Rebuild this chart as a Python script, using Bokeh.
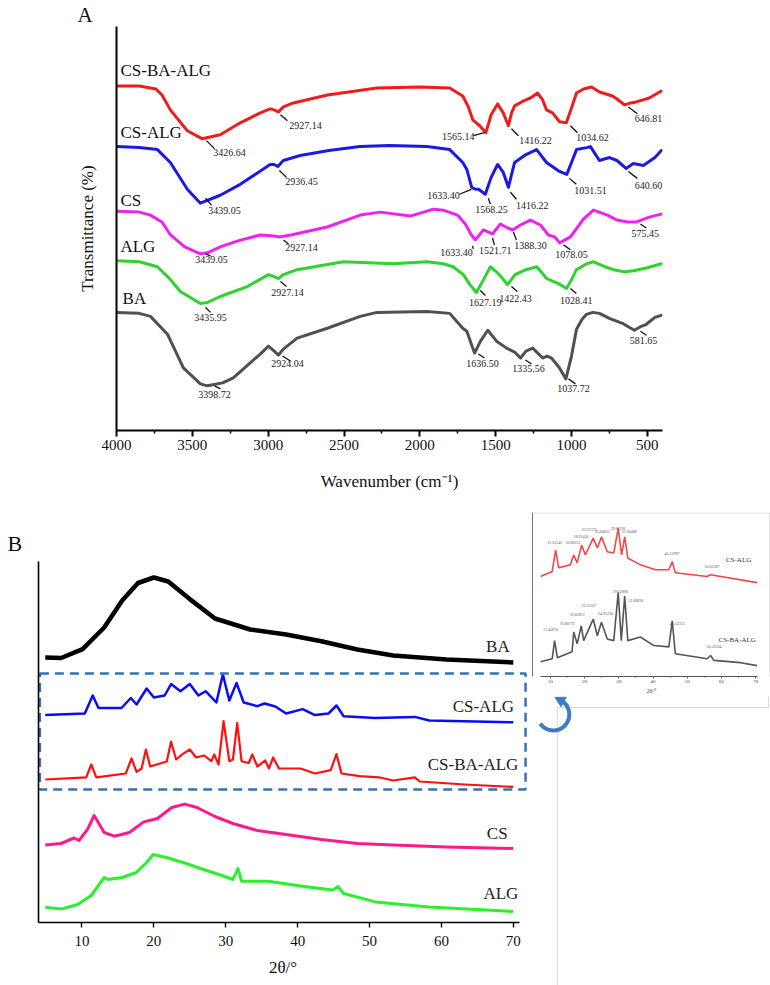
import math
from bokeh.plotting import figure
from bokeh.layouts import column, row
from bokeh.models import Range1d, FixedTicker
from bokeh.core.properties import value
from bokeh.embed import file_html
from bokeh.resources import INLINE

SERIF = "Liberation Serif"

# ---------------- Panel A : FTIR spectra ----------------
csbaalg_wn = [4000, 3850, 3740, 3700, 3645, 3533, 3436, 3316, 3184, 3052, 2987, 2960, 2932, 2900, 2834, 2610, 2283, 2000, 1803, 1717, 1680, 1651, 1605, 1565, 1530, 1487, 1450, 1416, 1395, 1375, 1329, 1270, 1224, 1190, 1165, 1125, 1079, 1034, 1000, 967, 920, 868, 816, 730, 700, 651, 610, 573, 487, 408]
csbaalg_t = [347, 347, 344, 338, 323, 302, 294, 298, 310, 320, 324, 323, 321, 326, 330, 338, 345, 346, 345, 337, 326, 313, 307, 300, 318, 329, 320, 307, 320, 327, 331, 335, 340, 333, 323, 320, 311, 310, 325, 340, 344, 346, 341, 337, 334, 328, 330, 331, 335, 342]

csalg_wn = [4000, 3850, 3730, 3645, 3533, 3447, 3316, 3184, 2987, 2960, 2936, 2900, 2789, 2600, 2395, 2200, 1953, 1803, 1717, 1690, 1658, 1633, 1613, 1568, 1530, 1487, 1450, 1416, 1395, 1375, 1300, 1230, 1165, 1079, 1031, 1000, 967, 900, 875, 816, 750, 700, 640, 592, 526, 450, 408]
csalg_t = [286, 285, 283, 270, 243, 229, 237, 248, 268, 268, 266, 272, 277, 282, 286, 287, 286, 283, 270, 263, 245, 243, 243, 238, 255, 268, 260, 245, 258, 270, 278, 283, 270, 261, 258, 270, 283, 285, 286, 272, 275, 272, 264, 269, 267, 275, 282]

cs_wn = [4000, 3850, 3776, 3700, 3644, 3550, 3447, 3400, 3316, 3200, 3052, 2960, 2927, 2850, 2610, 2393, 2261, 2063, 1910, 1845, 1752, 1700, 1660, 1634, 1581, 1521, 1469, 1420, 1388, 1337, 1271, 1205, 1152, 1110, 1078, 1007, 960, 921, 855, 763, 700, 632, 575, 487, 408]
cs_t = [221, 220, 217, 210, 197, 185, 178, 179, 185, 191, 197, 196, 195, 197, 205, 217, 220, 216, 223, 222, 217, 208, 197, 192, 202, 198, 208, 204, 202, 207, 212, 207, 197, 195, 189, 195, 205, 213, 222, 217, 212, 210, 210, 215, 218]

alg_wn = [4000, 3850, 3730, 3650, 3579, 3447, 3400, 3316, 3138, 2998, 2960, 2932, 2900, 2809, 2505, 2175, 1953, 1845, 1781, 1713, 1670, 1627, 1580, 1535, 1482, 1422, 1372, 1300, 1229, 1163, 1086, 1033, 1000, 967, 900, 855, 780, 723, 650, 592, 500, 408]
alg_t = [171, 170, 165, 153, 140, 128, 129, 135, 145, 157, 155, 153, 157, 162, 170, 168, 170, 168, 165, 157, 147, 139, 152, 165, 158, 147, 157, 162, 165, 153, 148, 143, 152, 162, 168, 170, 165, 162, 160, 161, 164, 168]

ba_wn = [4000, 3850, 3776, 3664, 3559, 3447, 3401, 3300, 3230, 3052, 2998, 2960, 2932, 2900, 2809, 2610, 2393, 2283, 1953, 1803, 1717, 1690, 1660, 1639, 1600, 1552, 1494, 1428, 1375, 1336, 1300, 1256, 1190, 1160, 1132, 1079, 1037, 1000, 967, 930, 901, 860, 816, 750, 664, 620, 585, 540, 507, 450, 408]
ba_t = [119, 118, 115, 97, 63, 47, 45, 48, 53, 77, 85, 80, 76, 82, 93, 103, 115, 119, 120, 118, 103, 100, 87, 78, 90, 101, 90, 83, 79, 73, 80, 83, 73, 75, 73, 63, 52, 75, 102, 112, 117, 119, 118, 113, 108, 104, 101, 105, 107, 114, 116]

ftir_names = ["CS-BA-ALG", "CS-ALG", "CS", "ALG", "BA"]
ftir_colors = ["#ee1c1c", "#1a1ae0", "#ee22ee", "#2fd22f", "#505050"]
ftir_ticks = [4000, 3500, 3000, 2500, 2000, 1500, 1000, 500]
ftir_minor = [3750, 3250, 2750, 2250, 1750, 1250, 750]

# peak annotations: label text, text position, leader from/to
peak_text = ["3426.64", "2927.14", "1565.14", "1416.22", "1034.62", "646.81",
             "3439.05", "2936.45", "1633.40", "1568.25", "1416.22", "1031.51", "640.60",
             "3439.05", "2927.14", "1633.40", "1521.71", "1388.30", "1078.05", "575.45",
             "3435.95", "2927.14", "1627.19", "1422.43", "1028.41",
             "3398.72", "2924.04", "1636.50", "1335.56", "1037.72", "581.65"]
peak_tx = [3255, 2754, 1746, 1238, 862, 493,
           3288, 2780, 1844, 1528, 1258, 875, 493,
           3374, 2780, 1759, 1502, 1271, 1000, 513,
           3380, 2873, 1568, 1370, 968,
           3354, 2873, 1587, 1284, 987, 526]
peak_ty = [280, 307, 296, 292, 295, 314,
           222, 251, 237, 223, 227, 242, 247,
           172, 184, 179, 181, 186, 177, 198,
           114, 139, 129, 133, 131,
           36, 67, 68, 62, 42, 91]
lead_x0 = [3407, 2919, 1647, 1396, 1007, 625,
           3413, 2926, 1739, 1548, 1403, 1014, 625,
           3413, 2899, 1653, 1521, 1383, 1053, 546,
           3413, 2919, 1601, 1396, 1007,
           3354, 2906, 1614, 1304, 1020, 546]
lead_y0 = [292, 318, 297, 304, 307, 326,
           234, 262, 238, 234, 240, 254, 261,
           178, 192, 186, 194, 200, 187, 208,
           124, 150, 141, 145, 143,
           45, 75, 77, 71, 52, 100]
lead_x1 = [3354, 2873, 1574, 1350, 961, 566,
           3374, 2879, 1660, 1535, 1363, 968, 566,
           3380, 2866, 1647, 1508, 1363, 1007, 506,
           3380, 2879, 1568, 1357, 968,
           3314, 2853, 1574, 1264, 974, 506]
lead_y1 = [284, 312, 300, 297, 300, 319,
           227, 255, 243, 228, 233, 248, 254,
           176, 188, 183, 187, 192, 182, 204,
           119, 145, 136, 140, 138,
           42, 70, 73, 67, 47, 96]

name_x = [3974, 3974, 3974, 3974, 3960]
name_y = [363, 300, 232, 185, 133]

pA = figure(width=770, height=505, x_range=Range1d(4000, 400), y_range=Range1d(0, 407),
            output_backend="svg", toolbar_location=None, title="A",
            min_border_left=116, min_border_right=108, min_border_top=23, min_border_bottom=75)
pA.outline_line_color = None
pA.grid.visible = False
pA.title.text_font = SERIF
pA.title.text_font_size = "21px"
pA.title.text_font_style = "normal"
pA.title.text_color = "#111111"
pA.title.align = "left"
pA.title.offset = -39
pA.title.standoff = 0

series = [(csbaalg_wn, csbaalg_t), (csalg_wn, csalg_t), (cs_wn, cs_t), (alg_wn, alg_t), (ba_wn, ba_t)]
for (xs, ys), col in zip(series, ftir_colors):
    pA.line(xs, ys, line_color=col, line_width=3, line_join="round", line_cap="round")

pA.segment(x0=lead_x0, y0=lead_y0, x1=lead_x1, y1=lead_y1, line_color="#111111", line_width=1.3)
pA.text(x=peak_tx, y=peak_ty, text=peak_text, text_font=value(SERIF), text_font_size=value("10px"),
        text_align="center", text_baseline="middle", text_color="#222222")
pA.text(x=name_x, y=name_y, text=ftir_names, text_font=value(SERIF), text_font_size=value("17px"),
        text_align="left", text_baseline="middle", text_color="#111111")

xa = pA.xaxis[0]
xa.ticker = FixedTicker(ticks=ftir_ticks, minor_ticks=ftir_minor)
xa.major_label_text_font = SERIF
xa.major_label_text_font_size = "15px"
xa.major_label_text_color = "#111111"
xa.major_tick_out = 6
xa.major_tick_in = 0
xa.minor_tick_out = 3
xa.minor_tick_in = 0
xa.major_label_standoff = 3
xa.axis_line_width = 2
xa.major_tick_line_width = 2
xa.minor_tick_line_width = 1.5
xa.axis_label = "Wavenumber (cm\u207b\u00b9)"
xa.axis_label_text_font = SERIF
xa.axis_label_text_font_size = "17px"
xa.axis_label_text_font_style = "normal"
xa.axis_label_text_color = "#111111"
xa.axis_label_standoff = 19

ya = pA.yaxis[0]
ya.ticker = FixedTicker(ticks=[])
ya.major_label_text_font_size = "0px"
ya.major_tick_out = 0
ya.major_tick_in = 0
ya.minor_tick_out = 0
ya.minor_tick_in = 0
ya.axis_line_width = 2
ya.axis_label = "Transmittance (%)"
ya.axis_label_text_font = SERIF
ya.axis_label_text_font_size = "17px"
ya.axis_label_text_font_style = "normal"
ya.axis_label_text_color = "#111111"
ya.axis_label_standoff = 20

# ---------------- Panel B : XRD patterns ----------------
ba_xrd_2t = [4.9, 7.1, 10.1, 13.1, 15.6, 17.8, 20.0, 22.0, 25.0, 28.5, 33.4, 38.4, 43.3, 48.3, 53.3, 60.7, 70.0]
ba_xrd_i = [265, 264.5, 273.4, 295, 322, 339.5, 345, 341, 323.4, 304, 293, 288, 281.3, 273, 267, 263, 260]

csalg_xrd_2t = [4.9, 10.4, 11.5, 12.3, 15.5, 16.8, 17.6, 19.0, 20.0, 21.5, 22.4, 23.7, 25.0, 26.2, 27.2, 28.7, 29.6, 30.5, 31.5, 32.5, 34.4, 35.4, 36.9, 38.4, 40.7, 42.4, 44.3, 45.4, 46.4, 50.8, 56.3, 58.3, 70.0]
csalg_xrd_i = [207.4, 209, 227, 214.5, 214.5, 224.5, 218, 234, 225, 227, 238.4, 231.3, 238.4, 227, 231.3, 220, 248, 222, 239.5, 220, 216.3, 219, 216, 209, 213.4, 207.4, 209, 217, 206.3, 204.5, 205.6, 202, 200.2]

csbaalg_xrd_2t = [4.9, 10.6, 11.3, 12.0, 16.1, 16.9, 17.6, 18.3, 18.9, 19.5, 21.8, 22.4, 23.1, 24.0, 25.0, 25.9, 27.0, 28.0, 28.4, 29.0, 29.7, 30.5, 31.0, 31.6, 32.2, 33.2, 33.7, 34.4, 35.5, 36.0, 36.6, 37.4, 40.4, 42.4, 44.6, 45.4, 46.1, 48.6, 51.3, 53.3, 56.3, 57.0, 63.2, 70.0]
csbaalg_xrd_i = [143, 145.2, 158, 145.2, 149, 164, 150.6, 154, 173, 156, 161, 181, 163, 168.4, 173, 165, 167, 161.3, 168, 158, 201.3, 161.3, 163, 199.5, 161.3, 159.5, 168, 156, 162, 154, 165, 154, 154, 149, 152.4, 168.4, 149, 146.3, 145.2, 142, 145.2, 141, 138, 135.6]

cs_xrd_2t = [4.9, 7.1, 8.9, 9.6, 10.8, 11.7, 13.1, 14.5, 16.6, 18.6, 20.5, 22.5, 24.3, 26.0, 28.5, 31.0, 34.4, 38.4, 43.3, 48.3, 53.3, 60.7, 70.0]
cs_xrd_i = [77.4, 79, 84.5, 82, 93.4, 107, 90, 86.3, 90, 100.6, 104, 115, 118.4, 115, 106, 99, 92, 88, 83, 79, 77.4, 75.6, 74]

alg_xrd_2t = [4.9, 7.1, 9.4, 11.3, 13.1, 13.6, 15.6, 17.6, 19.0, 19.9, 22.0, 24.5, 26.5, 29.5, 31.0, 31.7, 32.2, 35.9, 40.9, 44.9, 45.6, 46.4, 50.8, 58.3, 70.0]
alg_xrd_i = [15.2, 13.4, 18, 27, 45, 43, 45, 50.2, 60, 68, 64.5, 59, 54, 47, 43, 54, 41.3, 41.3, 36, 32.4, 36, 29, 20.6, 15.6, 11]

xrd_names = ["BA", "CS-ALG", "CS-BA-ALG", "CS", "ALG"]
xrd_colors = ["#000000", "#0a0aff", "#ff1010", "#ff1a8c", "#2cf02c"]
xrd_widths = [4.5, 2.5, 2.2, 3, 3]
xrd_ticks = [10, 20, 30, 40, 50, 60, 70]
xrd_name_x = [69.5, 70.1, 70.7, 69.2, 70.7]
xrd_name_y = [276, 216, 158, 89, 29]

pB = figure(width=530, height=480, x_range=Range1d(3.96, 71.97), y_range=Range1d(0, 361),
            output_backend="svg", toolbar_location=None, title="B",
            min_border_left=38, min_border_right=3, min_border_top=56, min_border_bottom=63)
pB.outline_line_color = None
pB.grid.visible = False
pB.title.text_font = SERIF
pB.title.text_font_size = "22px"
pB.title.text_font_style = "normal"
pB.title.text_color = "#111111"
pB.title.align = "left"
pB.title.offset = -31
pB.title.standoff = 11

xrd_series = [(ba_xrd_2t, ba_xrd_i), (csalg_xrd_2t, csalg_xrd_i), (csbaalg_xrd_2t, csbaalg_xrd_i),
              (cs_xrd_2t, cs_xrd_i), (alg_xrd_2t, alg_xrd_i)]
for (xs, ys), col, lw in zip(xrd_series, xrd_colors, xrd_widths):
    pB.line(xs, ys, line_color=col, line_width=lw, line_join="round")

pB.text(x=xrd_name_x, y=xrd_name_y, text=xrd_names, text_font=value(SERIF), text_font_size=value("17px"),
        text_align="right", text_baseline="middle", text_color="#222222")

# dashed highlight box around CS-ALG and CS-BA-ALG
pB.quad(left=[4.15], right=[71.7], bottom=[133], top=[249], fill_color=None,
        line_color="#3273b4", line_width=2.5, line_dash="9 6")

bx = pB.xaxis[0]
bx.ticker = FixedTicker(ticks=xrd_ticks)
bx.bounds = (3.96, 70.8)
bx.major_label_text_font = SERIF
bx.major_label_text_font_size = "15px"
bx.major_label_text_color = "#111111"
bx.major_tick_out = 5
bx.major_tick_in = 0
bx.minor_tick_out = 0
bx.minor_tick_in = 0
bx.major_label_standoff = 8
bx.axis_line_width = 1.6
bx.major_tick_line_width = 1.4
bx.axis_label = "2\u03b8/\u00b0"
bx.axis_label_text_font = SERIF
bx.axis_label_text_font_size = "17px"
bx.axis_label_text_font_style = "normal"
bx.axis_label_text_color = "#111111"
bx.axis_label_standoff = 9

by = pB.yaxis[0]
by.ticker = FixedTicker(ticks=[])
by.major_label_text_font_size = "0px"
by.major_tick_out = 0
by.major_tick_in = 0
by.minor_tick_out = 0
by.minor_tick_in = 0
by.axis_line_width = 1.6

# ---------------- Inset: CS-ALG and CS-BA-ALG with peak positions ----------------
inset_csalg_2t = [7.1, 10.5, 11.5, 12.4, 15.8, 16.8, 17.8, 19.1, 20.2, 22.5, 23.7, 24.9, 26.6, 28.5, 29.8, 30.8, 31.7, 32.6, 36.3, 40.7, 44.6, 45.6, 46.5, 55.8, 56.8, 70.4]
inset_csalg_i = [101.3, 106.3, 128, 110, 113, 123, 115, 133, 123, 140, 130, 141.3, 126.3, 125, 150, 123, 141.3, 120, 113, 108, 108, 116.3, 105, 101.3, 103, 95]
inset_csbaalg_2t = [7.1, 10.5, 11.2, 12.0, 16.3, 16.8, 17.8, 19.0, 19.7, 22.5, 23.7, 24.9, 26.6, 28.5, 29.8, 30.7, 31.7, 32.6, 36.3, 40.2, 44.6, 45.6, 46.5, 55.8, 56.8, 57.8, 65.6, 70.4]
inset_csbaalg_i = [15, 18, 36.3, 19, 25, 45, 33, 51.3, 36.3, 58, 41.3, 55, 38, 36.3, 85, 36.3, 81.3, 36.3, 40, 31.3, 30, 56.3, 23, 18, 21.3, 16.3, 14, 11]

inset_red_peaks = ["11.25142", "16.88251", "18.91458", "22.21375", "25.04031", "29.66591", "31.66488", "45.51997", "56.62307"]
inset_red_px = [11.2, 16.6, 18.9, 21.3, 25.1, 29.8, 33.0, 45.5, 57.2]
inset_red_py = [134, 134, 140, 147, 145, 148, 145, 123, 110]
inset_gray_peaks = ["11.43870", "16.80772", "19.02812", "22.52567", "24.95230", "29.62890", "31.68820", "45.52313", "56.52564"]
inset_gray_px = [10.0, 14.9, 17.8, 21.2, 26.1, 30.5, 34.9, 47.1, 57.8]
inset_gray_py = [46, 52, 61, 70, 62, 85, 75, 52, 29]
inset_names = ["CS-ALG", "CS-BA-ALG"]
inset_name_x = [65.0, 64.6]
inset_name_y = [118, 37]

pI = figure(width=240, height=191, x_range=Range1d(4.74, 74.33), y_range=Range1d(0, 166),
            output_backend="svg", toolbar_location=None,
            min_border_left=2, min_border_right=0, min_border_top=7, min_border_bottom=18)
pI.outline_line_color = None
pI.grid.visible = False
# light frame of the pasted inset (top and right edges)
pI.segment(x0=[4.74, 74.1], y0=[165.5, 0], x1=[74.33, 74.1], y1=[165.5, 166],
           line_color="#d8d8d8", line_width=1)
pI.line(inset_csalg_2t, inset_csalg_i, line_color="#f04848", line_width=1.6)
pI.line(inset_csbaalg_2t, inset_csbaalg_i, line_color="#555555", line_width=1.6)
pI.text(x=inset_red_px, y=inset_red_py, text=inset_red_peaks, text_font=value(SERIF),
        text_font_size=value("4px"), text_align="center", text_baseline="bottom", text_color="#555555")
pI.text(x=inset_gray_px, y=inset_gray_py, text=inset_gray_peaks, text_font=value(SERIF),
        text_font_size=value("4px"), text_align="center", text_baseline="bottom", text_color="#555555")
pI.text(x=inset_name_x, y=inset_name_y, text=inset_names, text_font=value(SERIF),
        text_font_size=value("7px"), text_align="center", text_baseline="middle", text_color="#333333")

ix = pI.xaxis[0]
ix.ticker = FixedTicker(ticks=xrd_ticks, minor_ticks=[15, 25, 35, 45, 55, 65])
ix.bounds = (7.1, 70.5)
ix.major_label_text_font = SERIF
ix.major_label_text_font_size = "5px"
ix.major_label_text_color = "#444444"
ix.major_tick_out = 2
ix.major_tick_in = 0
ix.minor_tick_out = 1
ix.minor_tick_in = 0
ix.major_label_standoff = 1
ix.axis_line_color = "#555555"
ix.major_tick_line_color = "#555555"
ix.minor_tick_line_color = "#555555"
ix.axis_line_width = 1
ix.axis_label = "2\u03b8/\u00b0"
ix.axis_label_text_font = SERIF
ix.axis_label_text_font_size = "6px"
ix.axis_label_text_font_style = "normal"
ix.axis_label_text_color = "#444444"
ix.axis_label_standoff = 2

iy = pI.yaxis[0]
iy.ticker = FixedTicker(ticks=[])
iy.major_label_text_font_size = "0px"
iy.major_tick_out = 0
iy.major_tick_in = 0
iy.minor_tick_out = 0
iy.minor_tick_in = 0
iy.axis_line_color = "#777777"
iy.axis_line_width = 1

# ---------------- decoration below the inset: frame lines and curved arrow ----------------
pD = figure(width=240, height=289, x_range=Range1d(530, 770), y_range=Range1d(0, 289),
            output_backend="svg", toolbar_location=None, x_axis_type=None, y_axis_type=None,
            min_border=0)
pD.outline_line_color = None
pD.grid.visible = False
pD.segment(x0=[555, 555, 768], y0=[278, 278, 278], x1=[768, 555, 768], y1=[278, 0, 289],
           line_color="#d8d8d8", line_width=1)
pD.arc(x=[551], y=[271], radius=16, radius_units="screen", start_angle=math.radians(215),
       end_angle=math.radians(62), direction="anticlock", line_color="#3c7cc0", line_width=4)
pD.scatter(x=[551 + 16 * math.cos(math.radians(62))], y=[271 + 16 * math.sin(math.radians(62))],
           marker="triangle", size=11, angle=math.radians(62), fill_color="#3c7cc0", line_color="#3c7cc0")

layout = column(pA, row(pB, column(pI, pD)))
open("out.html", "w").write(file_html(layout, INLINE))
